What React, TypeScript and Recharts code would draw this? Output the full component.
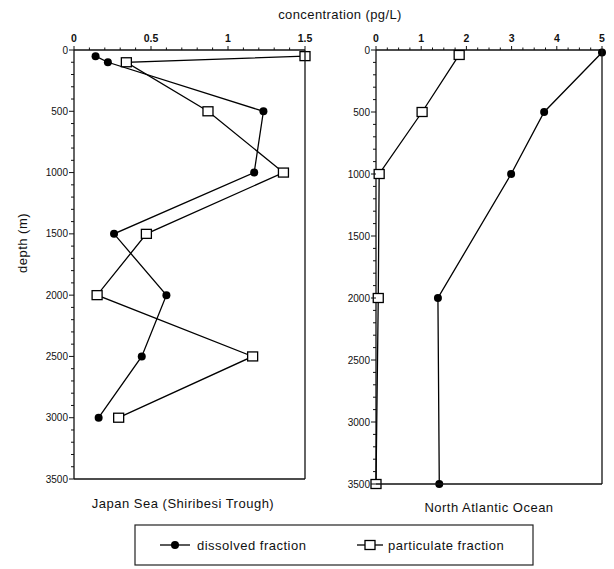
import React from 'react';
import { ScatterChart, Scatter, XAxis, YAxis } from 'recharts';

// Japan Sea (Shiribesi Trough)
const jsDissolvedDepth = [50, 100, 500, 1000, 1500, 2000, 2500, 3000];
const jsDissolved = [0.14, 0.22, 1.23, 1.17, 0.26, 0.6, 0.44, 0.16];
const jsParticulateDepth = [50, 100, 500, 1000, 1500, 2000, 2500, 3000];
const jsParticulate = [1.5, 0.34, 0.87, 1.36, 0.47, 0.15, 1.16, 0.29];

// North Atlantic Ocean
const naDissolvedDepth = [20, 500, 1000, 2000, 3500];
const naDissolved = [5.0, 3.72, 2.99, 1.37, 1.4];
const naParticulateDepth = [40, 500, 1000, 2000, 3500];
const naParticulate = [1.84, 1.02, 0.07, 0.05, 0.0];

const depthTicks = Array.from({ length: 36 }, (_, i) => i * 100);
const jsConcTicks = [0, 0.1, 0.2, 0.3, 0.4, 0.5, 0.6, 0.7, 0.8, 0.9, 1, 1.1, 1.2, 1.3, 1.4, 1.5];
const naConcTicks = [0, 0.25, 0.5, 0.75, 1, 1.25, 1.5, 1.75, 2, 2.25, 2.5, 2.75, 3, 3.25, 3.5, 3.75, 4, 4.25, 4.5, 4.75, 5];

const FONT = '"Liberation Sans", Arial, sans-serif';

const toPts = (xs: number[], ys: number[]) => xs.map((v, i) => ({ c: v, d: ys[i] }));

const isMult = (v: number, step: number) => Math.abs(v / step - Math.round(v / step)) < 1e-6;

const makeYTick = () => (props: any) => {
  const { x, y, payload } = props;
  const v = payload.value;
  const major = isMult(v, 500);
  return (
    <g>
      <line x1={x} x2={x - (major ? 5 : 3)} y1={y} y2={y} stroke="#111" strokeWidth={1} />
      {major && (
        <text x={x - 6} y={y} dy={3.5} textAnchor="end" fontSize={10} fontFamily={FONT} fill="#111">
          {v}
        </text>
      )}
    </g>
  );
};

const makeXTick = (step: number) => (props: any) => {
  const { x, y, payload } = props;
  const v = payload.value;
  const major = isMult(v, step);
  return (
    <g>
      <line x1={x} x2={x} y1={y} y2={y - (major ? 4 : 2.5)} stroke="#111" strokeWidth={1} />
      {major && (
        <text x={x} y={y - 8} textAnchor="middle" fontSize={10.5} fontFamily={FONT} fontWeight="bold" fill="#111">
          {v}
        </text>
      )}
    </g>
  );
};

const Dot = (props: any) => <circle cx={props.cx} cy={props.cy} r={4} fill="#000" />;
const Sq = (props: any) => (
  <rect x={props.cx - 5} y={props.cy - 4.5} width={10} height={9} fill="#fff" stroke="#000" strokeWidth={1.3} />
);

const lineStyle = { stroke: '#000', strokeWidth: 1.3 };

const X_AXIS_H = 30;

type PanelCfg = {
  left: number;
  width: number;
  height: number;
  margin: { top: number; right: number; bottom: number; left: number };
  yWidth: number;
};

const leftCfg: PanelCfg = { left: 0, width: 320, height: 490, margin: { top: 20, right: 15, bottom: 11, left: 0 }, yWidth: 74 };
const rightCfg: PanelCfg = { left: 300, width: 314, height: 495, margin: { top: 20, right: 12, bottom: 11, left: 0 }, yWidth: 76 };

// plot-area rectangle of a panel (page coordinates), derived from its layout config
const plotRect = (c: PanelCfg) => ({
  x0: c.left + c.margin.left + c.yWidth,
  x1: c.left + c.width - c.margin.right,
  y0: c.margin.top + X_AXIS_H,
  y1: c.height - c.margin.bottom,
});

function Panel(props: {
  cfg: PanelCfg;
  xMax: number;
  xTicks: number[];
  xStep: number;
  diss: { c: number; d: number }[];
  part: { c: number; d: number }[];
}) {
  const { cfg, xMax, xTicks, xStep, diss, part } = props;
  return (
    <ScatterChart width={cfg.width} height={cfg.height} margin={cfg.margin} style={{ background: 'transparent' }}>
      <XAxis
        type="number"
        dataKey="c"
        orientation="top"
        domain={[0, xMax]}
        ticks={xTicks}
        interval={0}
        height={X_AXIS_H}
        tickSize={0}
        tickMargin={0}
        tickLine={false}
        axisLine={{ stroke: '#111', strokeWidth: 1.3 }}
        tick={makeXTick(xStep)}
      />
      <YAxis
        type="number"
        dataKey="d"
        reversed
        domain={[0, 3500]}
        ticks={depthTicks}
        interval={0}
        width={cfg.yWidth}
        tickSize={0}
        tickMargin={0}
        tickLine={false}
        axisLine={{ stroke: '#111', strokeWidth: 1.3 }}
        tick={makeYTick()}
      />
      <Scatter data={diss} line={lineStyle} shape={Dot} isAnimationActive={false} />
      <Scatter data={part} line={lineStyle} shape={Sq} isAnimationActive={false} />
    </ScatterChart>
  );
}

function Frame({ cfg }: { cfg: PanelCfg }) {
  const r = plotRect(cfg);
  return (
    <g>
      <line x1={r.x1} x2={r.x1} y1={r.y0} y2={r.y1} stroke="#111" strokeWidth={1.3} />
      <line x1={r.x0} x2={r.x1} y1={r.y1} y2={r.y1} stroke="#111" strokeWidth={1.3} />
    </g>
  );
}

export default function App() {
  return (
    <div style={{ position: 'absolute', left: 0, top: 0, width: 614, height: 569, background: '#fff', fontFamily: FONT }}>
      <div style={{ position: 'absolute', left: leftCfg.left, top: 0 }}>
        <Panel
          cfg={leftCfg}
          xMax={1.5}
          xTicks={jsConcTicks}
          xStep={0.5}
          diss={toPts(jsDissolved, jsDissolvedDepth)}
          part={toPts(jsParticulate, jsParticulateDepth)}
        />
      </div>
      <div style={{ position: 'absolute', left: rightCfg.left, top: 0 }}>
        <Panel
          cfg={rightCfg}
          xMax={5}
          xTicks={naConcTicks}
          xStep={1}
          diss={toPts(naDissolved, naDissolvedDepth)}
          part={toPts(naParticulate, naParticulateDepth)}
        />
      </div>
      <svg
        width={614}
        height={569}
        style={{ position: 'absolute', left: 0, top: 0, pointerEvents: 'none', zIndex: 10, overflow: 'visible' }}
      >
        <Frame cfg={leftCfg} />
        <Frame cfg={rightCfg} />
        <text x={340} y={19} textAnchor="middle" fontSize={13} letterSpacing={0.4} fontFamily={FONT} fill="#111">
          concentration (pg/L)
        </text>
        <text
          x={22}
          y={243}
          textAnchor="middle"
          fontSize={13}
          letterSpacing={0.5}
          fontFamily={FONT}
          fill="#111"
          dominantBaseline="central"
          transform="rotate(-90 22 243)"
        >
          depth (m)
        </text>
        <text x={183} y={508} textAnchor="middle" fontSize={13} letterSpacing={0.5} fontFamily={FONT} fill="#111">
          Japan Sea (Shiribesi Trough)
        </text>
        <text x={489} y={512} textAnchor="middle" fontSize={13} letterSpacing={0.5} fontFamily={FONT} fill="#111">
          North Atlantic Ocean
        </text>
        <rect x={135} y={525} width={398} height={40} fill="none" stroke="#222" strokeWidth={1.2} />
        <line x1={160} x2={190} y1={545} y2={545} stroke="#000" strokeWidth={1.3} />
        <circle cx={175} cy={545} r={4} fill="#000" />
        <text x={197} y={549.5} fontSize={13} letterSpacing={0.5} fontFamily={FONT} fill="#111">
          dissolved fraction
        </text>
        <line x1={357} x2={383} y1={545} y2={545} stroke="#000" strokeWidth={1.3} />
        <rect x={365} y={540.5} width={10} height={9} fill="#fff" stroke="#000" strokeWidth={1.3} />
        <text x={388} y={549.5} fontSize={13} letterSpacing={0.5} fontFamily={FONT} fill="#111">
          particulate fraction
        </text>
      </svg>
    </div>
  );
}
